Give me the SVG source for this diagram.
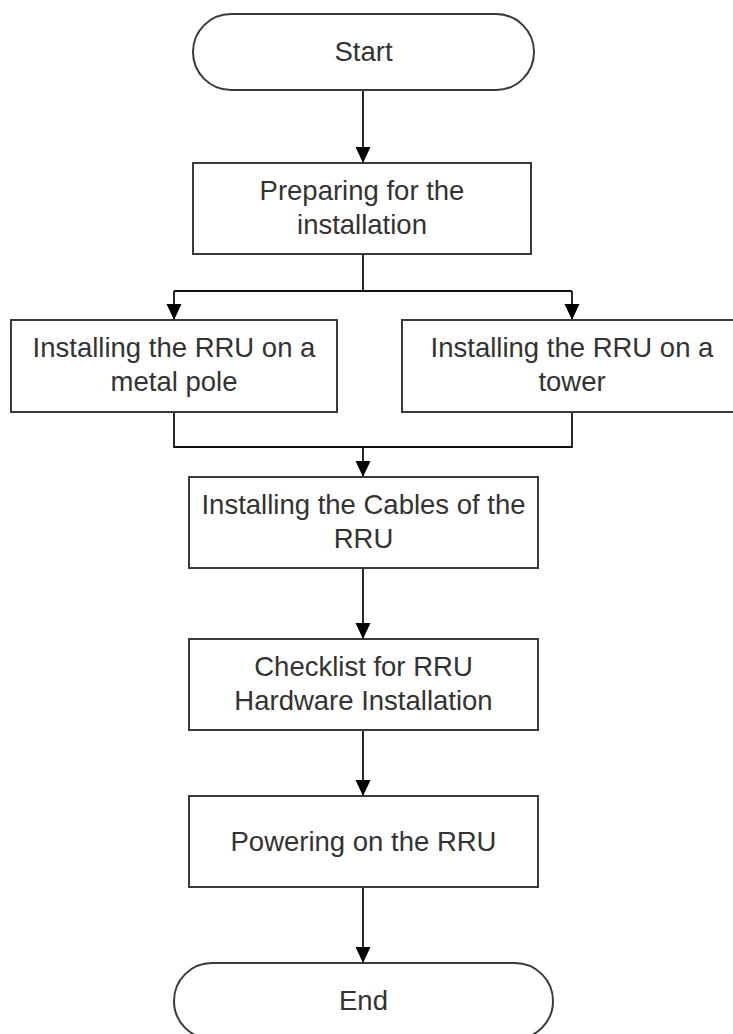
<svg xmlns="http://www.w3.org/2000/svg" width="733" height="1034" viewBox="0 0 733 1034">
<defs>
<marker id="arr" markerUnits="userSpaceOnUse" markerWidth="16" markerHeight="18" refX="15" refY="7.5" orient="auto">
<path d="M0,0 L16,7.5 L0,15 Z" fill="#000"/>
</marker>
<style>
.box{fill:#fff;stroke:#3a3a3a;stroke-width:2}
.lbl{font-family:"Liberation Sans",Arial,sans-serif;font-size:27.5px;fill:#333;text-anchor:middle}
.con{fill:none;stroke:#111;stroke-width:1.8}
</style>
</defs>
<rect width="733" height="1034" fill="#fff"/>
<g id="connectors">
<path class="con" d="M363,90 V162" marker-end="url(#arr)"/>
<path class="con" d="M363,254 V291"/>
<path class="con" d="M174,291 H572"/>
<path class="con" d="M174,291 V319" marker-end="url(#arr)"/>
<path class="con" d="M572,291 V319" marker-end="url(#arr)"/>
<path class="con" d="M174,412 V447 H572 V412"/>
<path class="con" d="M363,447 V476" marker-end="url(#arr)"/>
<path class="con" d="M363,568 V638" marker-end="url(#arr)"/>
<path class="con" d="M363,730 V795" marker-end="url(#arr)"/>
<path class="con" d="M363,887 V962" marker-end="url(#arr)"/>
</g>
<g id="start">
<rect class="box" x="193" y="14" width="341" height="76" rx="38" ry="38"/>
<text class="lbl" x="363.5" y="61">Start</text>
</g>
<g id="prepare">
<rect class="box" x="193" y="163" width="338" height="91"/>
<text class="lbl" x="362" y="199.5">Preparing for the</text>
<text class="lbl" x="362" y="233.5">installation</text>
</g>
<g id="pole">
<rect class="box" x="11" y="320" width="326" height="92"/>
<text class="lbl" x="174" y="357">Installing the RRU on a</text>
<text class="lbl" x="174" y="391">metal pole</text>
</g>
<g id="tower">
<rect class="box" x="402" y="320" width="340" height="92"/>
<text class="lbl" x="572" y="357">Installing the RRU on a</text>
<text class="lbl" x="572" y="391">tower</text>
</g>
<g id="cables">
<rect class="box" x="189" y="477" width="349" height="91"/>
<text class="lbl" x="363.5" y="513.5">Installing the Cables of the</text>
<text class="lbl" x="363.5" y="547.5">RRU</text>
</g>
<g id="checklist">
<rect class="box" x="189" y="639" width="349" height="91"/>
<text class="lbl" x="363.5" y="675.5">Checklist for RRU</text>
<text class="lbl" x="363.5" y="709.5">Hardware Installation</text>
</g>
<g id="power">
<rect class="box" x="189" y="796" width="349" height="91"/>
<text class="lbl" x="363.5" y="850.5">Powering on the RRU</text>
</g>
<g id="end">
<rect class="box" x="174" y="963" width="379" height="76" rx="38" ry="38"/>
<text class="lbl" x="363.5" y="1010">End</text>
</g>
</svg>
